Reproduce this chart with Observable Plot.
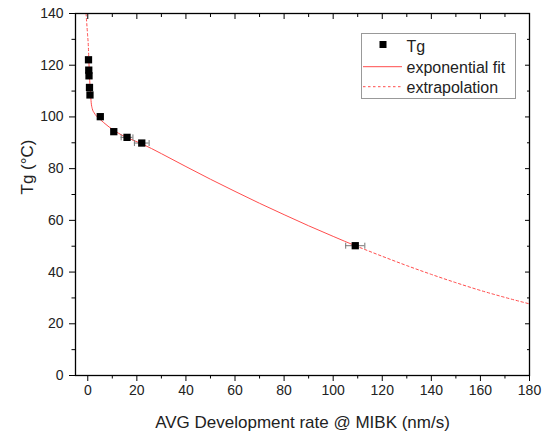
<!DOCTYPE html>
<html><head><meta charset="utf-8">
<script src="https://cdn.jsdelivr.net/npm/d3@7"></script>
<script src="https://cdn.jsdelivr.net/npm/@observablehq/plot@0.6"></script>
<style>
html,body{margin:0;padding:0;background:#fff;}
#wrap{position:relative;width:542px;height:434px;font-family:"Liberation Sans",Arial,sans-serif;}
#wrap svg{display:block;}
#legend{position:absolute;left:361px;top:33px;}
</style></head><body><div id="wrap"></div>
<script>
// measured data (Tg vs development rate)
const rate = [0.3, 0.4, 0.5, 0.7, 0.9, 5.1, 10.6, 16.0, 22.0, 109.0];
const tgValues = [122.1, 118.1, 115.9, 111.4, 108.5, 100.1, 94.3, 92.1, 89.9, 50.2];
const rateErr = [0, 0, 0, 0, 0, 0, 0, 2.4, 3.0, 3.9];

// exponential fit (solid)
const fitRate = [0.4, 0.6, 0.8, 1.1, 1.4, 1.8, 2.6, 3.5, 4.6, 6.5, 8.7, 11, 14, 18, 22, 30, 40, 50, 60, 70, 80, 90, 100, 109];
const fitTg = [123, 118, 114, 109.5, 105.5, 103.3, 101.6, 100.4, 99.4, 97.8, 96.1, 94.6, 92.9, 91.2, 89.6, 85.8, 80.8, 75.9, 71.2, 66.6, 62.2, 57.9, 53.8, 50.2];

// extrapolation (dotted), both ends
const extraLowRate = [-0.7, -0.4, -0.1, 0.25, 0.4];
const extraLowTg = [140, 136, 132, 127, 123];
const extraHighRate = [109, 120, 130, 140, 150, 160, 170, 180];
const extraHighTg = [50.2, 46.1, 42.5, 39.1, 35.9, 32.9, 30.2, 27.7];

// axes
const xTicks = [0, 20, 40, 60, 80, 100, 120, 140, 160, 180];
const xMinorTicks = [10, 30, 50, 70, 90, 110, 130, 150, 170];
const yTicks = [0, 20, 40, 60, 80, 100, 120, 140];
const yMinorTicks = [10, 30, 50, 70, 90, 110, 130];
const xTitle = "AVG Development rate @ MIBK (nm/s)";
const yTitle = "Tg (°C)";
const legendLabels = ["Tg", "exponential fit", "extrapolation"];

const points = rate.map((x, i) => ({x, tg: tgValues[i], err: rateErr[i]}));
const errPts = points.filter(d => d.err > 0);
const caps = errPts.flatMap(d => [{x: d.x - d.err, tg: d.tg}, {x: d.x + d.err, tg: d.tg}]);
const fit = fitRate.map((x, i) => ({x, tg: fitTg[i]}));
const extraLow = extraLowRate.map((x, i) => ({x, tg: extraLowTg[i]}));
const extraHigh = extraHighRate.map((x, i) => ({x, tg: extraHighTg[i]}));

const vbar = {draw(ctx, size) { const r = Math.sqrt(size / Math.PI); ctx.moveTo(0, -r); ctx.lineTo(0, r); }};
const red = "#ff4d4d";
const blank = () => "";

const chart = Plot.plot({
  width: 542, height: 434,
  marginLeft: 75, marginRight: 13, marginTop: 13, marginBottom: 59,
  x: {domain: [-5, 180]},
  y: {domain: [0, 140]},
  style: {fontFamily: "'Liberation Sans', Arial, sans-serif", fontSize: "14px", color: "#222", background: "#fff"},
  marks: [
    Plot.line(extraLow, {x: "x", y: "tg", stroke: red, strokeWidth: 1, strokeDasharray: "2.5,2.5", curve: "monotone-x", clip: true}),
    Plot.line(fit, {x: "x", y: "tg", stroke: red, strokeWidth: 1, curve: "monotone-x"}),
    Plot.line(extraHigh, {x: "x", y: "tg", stroke: red, strokeWidth: 1, strokeDasharray: "2.5,2.5", curve: "monotone-x"}),
    Plot.ruleY(errPts, {y: "tg", x1: d => d.x - d.err, x2: d => d.x + d.err, stroke: "#777", strokeWidth: 1}),
    Plot.dot(caps, {x: "x", y: "tg", symbol: vbar, r: 3, stroke: "#777", strokeWidth: 1, fill: "none"}),
    Plot.dot(points, {x: "x", y: "tg", symbol: "square", r: 4.1, fill: "#000", stroke: "none"}),
    Plot.frame({stroke: "#000", strokeWidth: 1.3}),
    Plot.axisX({ticks: xTicks, tickSize: 6, tickPadding: 3.5, fontSize: 14, label: null, stroke: "#000"}),
    Plot.axisX({ticks: xMinorTicks, tickSize: 3.5, tickFormat: blank, label: null, stroke: "#000"}),
    Plot.axisX({anchor: "top", ticks: xTicks, tickSize: -5, tickFormat: blank, label: null, stroke: "#000"}),
    Plot.axisX({anchor: "top", ticks: xMinorTicks, tickSize: -3, tickFormat: blank, label: null, stroke: "#000"}),
    Plot.axisY({ticks: yTicks, tickSize: 6, tickPadding: 6, fontSize: 14, label: null, stroke: "#000"}),
    Plot.axisY({ticks: yMinorTicks, tickSize: 3.5, tickFormat: blank, label: null, stroke: "#000"}),
    Plot.axisY({anchor: "right", ticks: yTicks, tickSize: -5, tickFormat: blank, label: null, stroke: "#000"}),
    Plot.axisY({anchor: "right", ticks: yMinorTicks, tickSize: -3, tickFormat: blank, label: null, stroke: "#000"}),
    Plot.text([xTitle], {frameAnchor: "bottom", dy: 47, fontSize: 17, fill: "#222", lineAnchor: "middle"}),
    Plot.text([yTitle], {frameAnchor: "left", dx: -48, rotate: -90, fontSize: 17, fill: "#222", lineAnchor: "middle"})
  ]
});
const wrap = document.getElementById("wrap");
wrap.appendChild(chart);

// legend
const lg = d3.create("svg").attr("id", "legend").attr("width", 156).attr("height", 67)
  .style("font-family", "'Liberation Sans', Arial, sans-serif").style("font-size", "16px");
lg.append("rect").attr("x", 0.5).attr("y", 0.5).attr("width", 154).attr("height", 65).attr("fill", "#fff").attr("stroke", "#999");
lg.append("rect").attr("x", 18.5).attr("y", 8).attr("width", 7).attr("height", 7).attr("fill", "#000");
lg.append("line").attr("x1", 2).attr("x2", 41).attr("y1", 33.7).attr("y2", 33.7).attr("stroke", red).attr("stroke-width", 1);
lg.append("line").attr("x1", 2).attr("x2", 41).attr("y1", 53.7).attr("y2", 53.7).attr("stroke", red).attr("stroke-width", 1).attr("stroke-dasharray", "2.5,2.5");
const ys = [18.7, 39.5, 59.5];
legendLabels.forEach((t, i) => lg.append("text").attr("x", 45.5).attr("y", ys[i]).attr("fill", "#222").text(t));
wrap.appendChild(lg.node());
</script>
</body></html>
